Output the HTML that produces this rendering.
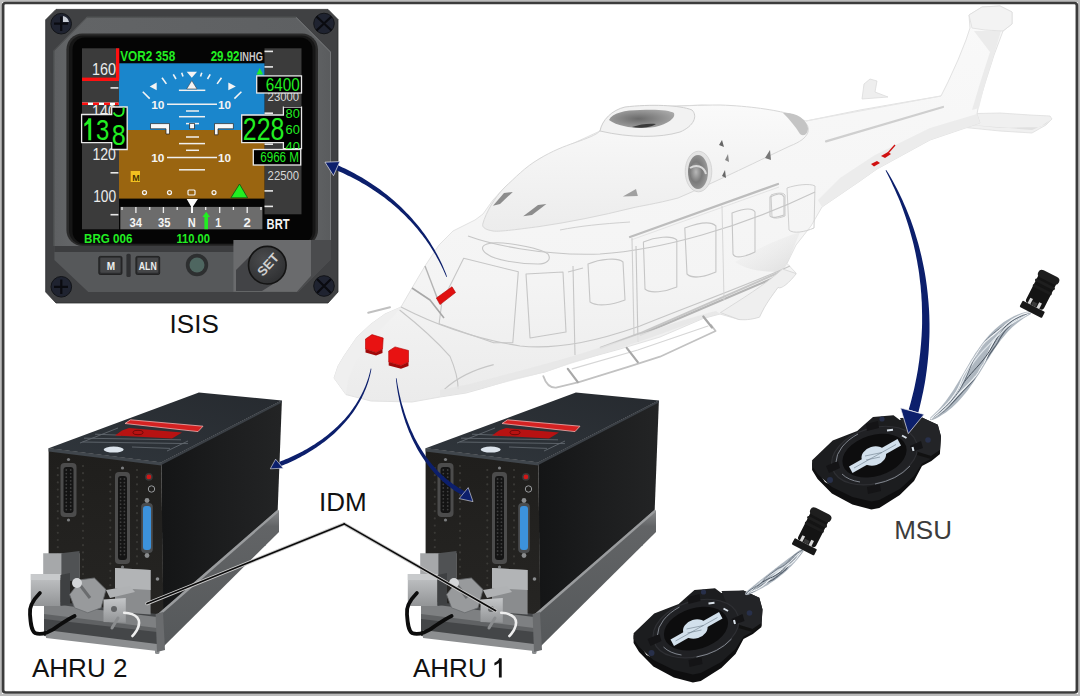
<!DOCTYPE html>
<html><head><meta charset="utf-8">
<style>
html,body{margin:0;padding:0;width:1080px;height:696px;overflow:hidden;background:#fff;}
svg{display:block}
text{font-family:"Liberation Sans",sans-serif}
</style></head>
<body>
<svg width="1080" height="696" viewBox="0 0 1080 696">
<rect x="0" y="0" width="1080" height="696" fill="#bcbcbc"/>
<rect x="2" y="2" width="1076" height="692" fill="#fff"/>
<defs>
  <linearGradient id="heliG" x1="0" y1="0" x2="0" y2="1">
    <stop offset="0" stop-color="#f9f9f9"/>
    <stop offset="0.7" stop-color="#f4f4f4"/>
    <stop offset="1" stop-color="#ebebeb"/>
  </linearGradient>
  <linearGradient id="cowlG" x1="0" y1="0" x2="0" y2="1">
    <stop offset="0" stop-color="#fafafa"/>
    <stop offset="1" stop-color="#ececec"/>
  </linearGradient>
  <radialGradient id="hubG" cx="0.45" cy="0.5" r="0.6">
    <stop offset="0" stop-color="#6a6a6a"/>
    <stop offset="1" stop-color="#a8a8a8"/>
  </radialGradient>
  <radialGradient id="intakeG" cx="0.4" cy="0.5" r="0.6">
    <stop offset="0" stop-color="#b8b8b8"/>
    <stop offset="0.5" stop-color="#7a7a7a"/>
    <stop offset="1" stop-color="#9a9a9a"/>
  </radialGradient>
  <linearGradient id="shadeR" x1="0" y1="0" x2="1" y2="1">
    <stop offset="0" stop-color="#f0f0f0" stop-opacity="0"/>
    <stop offset="1" stop-color="#d6d6d6" stop-opacity="1"/>
  </linearGradient>
</defs>
<g id="heli" stroke-linejoin="round">
  <!-- horizontal stabilizer -->
  <path d="M955 114 L1000 113 L1030 115 L1050 116 L1052 119 L1046 125 L1032 133 L1000 131 L960 127 Z" fill="#f0f0f0" stroke="#dedede" stroke-width="0.8"/>
  <path d="M960 124 L1032 130 L1046 124 L1050 120 L1040 127 L1000 128 Z" fill="#e0e0e0"/>
  <!-- small top fin -->
  <path d="M862 99 L864 84 L870 79 L877 81 L875 92 L888 97 Z" fill="#eeeeee" stroke="#dcdcdc" stroke-width="0.8"/>
  <!-- main silhouette -->
  <path d="M334 378 L338 366 L344 356 L357 337 L371 324 L385 314 L401 307 L412 288 L425 266 L439 245 L453 231 L475 220 L483 214 L493 200 L505 187 L539 159 L574 143 L600 131 L604 122 L613 113 L655 107 L702 105 L750 108 L783 113 L806 121 L860 110 L900 103 L941 96 L948 82 L958 60 L966 40 L970 28 L969 15 L982 7 L1000 6 L1012 12 L1012 24 L1003 31 L994 55 L986 80 L979 103 L977 114 L980 123 L930 140 L877 169 L860 181 L822 207 L811 226 L796 245 L787 263.5 L796 273 L778 287 L766 303 L759 317 L739 319.5 L720 314 L703 318.5 L660 337 L620 349 L573 362 L545 372 L514 379 L484 388 L466 393 L440 397 L412 402 L371 401 L346 394.6 Z" fill="url(#heliG)" stroke="#e2e2e2" stroke-width="1"/>
  <!-- boom underside shade -->
  <path d="M822 207 L860 181 L877 169 L930 140 L980 123 L977 114 L930 128 L875 155 L840 178 L818 200 Z" fill="#ececec"/>
  <!-- boom stripe -->
  <path d="M826 141.4 L943 107" stroke="#cfcfcf" stroke-width="2.2" fill="none" stroke-linecap="round"/>
  <path d="M806 121 L941 96" stroke="#e6e6e6" stroke-width="1" fill="none"/>
  <!-- fin shading -->
  <path d="M974 31 L1001 31 L993 58 L985 84 L979 108 L972 110 L981 80 L990 52 Z" fill="#ebebeb"/>
  <path d="M969 15 L982 7 L1000 6 L1012 12 L1012 24 L1003 31 L985 30 L972 28 Z" fill="#f3f3f3" stroke="#dddddd" stroke-width="0.8"/>
  <!-- rear shade above sponson -->
  <path d="M735 262 C755 250 775 240 800 232 L787 264 L782 272 C770 272 750 272 735 262 Z" fill="url(#shadeR)" opacity="0.8"/>
  <path d="M787 188 C795 185 810 183 815 186 L814 228 C805 232 793 234 789 230 Z" fill="none" stroke="#d0d0d0" stroke-width="1"/>
  <path d="M771 195 C776 193 783 192 785 195 L785 216 C780 218 774 219 772 217 Z" fill="none" stroke="#cccccc" stroke-width="1"/>
  <!-- engine cowling -->
  <path d="M482.7 224.3 C486 212 495 197 505 187 C515 178 525 167 539 159 C552 151 565 146 574 143 C588 138 596 135 600 131 C602 126 606 118 613 113 C630 108 645 107 655 107 C680 106 700 105 720 105 C750 106 775 110 790 114 C802 118 810 124 808 132 C806 138 800 142 790 146 C760 160 720 180 678 198 C655 204 640 206 632 208 C600 216 570 222 539 226.6 C520 229 500 232 493 231 C487 230 482 228 482.7 224.3 Z" fill="url(#cowlG)" stroke="#d8d8d8" stroke-width="1"/>
  <!-- hub ring -->
  <path d="M600 131 C602 120 612 110 625 107 C650 104 680 105 692 110 C698 116 694 126 680 132 C660 138 630 138 600 131 Z" fill="#f2f2f2" stroke="#cfcfcf" stroke-width="1"/>
  <path d="M609 120 C612 113 625 110 640 110 C655 109 670 110 674 113 C676 118 668 124 655 127 C640 129 620 128 609 120 Z" fill="url(#hubG)"/>
  <path d="M632 127 C640 124 650 123 656 124 C652 127 640 129 632 127 Z" fill="#3a3a3a"/>
  <!-- intake -->
  <ellipse cx="698.5" cy="171.5" rx="13.3" ry="20.3" fill="#e4e4e4" stroke="#cfcfcf" stroke-width="0.8"/>
  <ellipse cx="698" cy="172" rx="10" ry="17" fill="url(#intakeG)"/>
  <path d="M690 168 C696 164 704 166 706 174" stroke="#dadada" stroke-width="2" fill="none"/>
  <!-- exhaust -->
  <path d="M783 113 C795 112 806 118 808 128 C808 134 804 137 800 134 C795 126 790 120 783 113 Z" fill="#c4c4c4"/>
  <!-- vents -->
  <path d="M493 205.7 L504 193 L512.8 192 L500 204 Z" fill="#8c8c8c"/>
  <path d="M523.2 216.2 L538 205 L546.4 204 L532 215 Z" fill="#8c8c8c"/>
  <path d="M622.8 196.5 L636 189 L637.8 196 Z" fill="#a0a0a0"/>
  <path d="M719 145 L722 140 L724 147 Z" fill="#666"/>
  <path d="M722 176 L725 170 L726 178 Z" fill="#666"/>
  <path d="M725 160 L728 154 L729 162 Z" fill="#888"/>
  <path d="M765 158 L770 150 L771 160 Z" fill="#777"/>
  <!-- cabin lines -->
  <g fill="none" stroke="#c6c6c6" stroke-width="1.1">
    <path d="M463.7 258.2 L518.3 271.8 L512.8 342.8 L493.7 342.8 L439.1 323.7 L441.9 301.9 Z"/>
    <path d="M487 244 C500 240 540 248 548 254 C552 260 546 264 538 264 C518 264 495 260 487 254 C481 250 481 246 487 244 Z"/>
    <path d="M526 274 L563 272 L566 332 L530 338 Z"/>
    <path d="M588 264 C600 259 618 257 623 262 L625 300 C612 305 597 307 590 302 Z"/>
    <path d="M643.4 242 C655 237 672 235 676.8 240 L676.8 287 C665 292 650 294 645 289 Z"/>
    <path d="M684.8 228 C698 223 711 221 715.9 226 L715.9 272 C704 277 692 279 687 274 Z"/>
    <path d="M732 213 C742 209 752 207 755 212 L755 252 C745 257 735 259 733 254 Z"/>
    <path d="M770 197 C776 194 782 192 784 197 L784 215 C778 217 772 219 770 216 Z"/>
    <path d="M573 266 L575 355"/>
    <path d="M636 246 L638 342"/>
    <path d="M568 272 L583 268"/>
    <path d="M399.6 310 C425 330 440 345 450 356.4 C455 368 458 380 458.2 389.2"/>
    <path d="M444.6 389.2 C460 375 480 368 493.7 364.6"/>
    <path d="M401 307 C430 322 470 338 520 346 C560 350 600 340 640 326 C700 302 760 280 790 266"/>
    <path d="M468 236 C490 244 540 256 600 254 C660 250 740 228 815 192"/>
  </g>
  <!-- door rails -->
  <path d="M630 237 L778 184" stroke="#bdbdbd" stroke-width="2.2" fill="none" stroke-linecap="round"/>
  <path d="M631 240 L779 187" stroke="#e4e4e4" stroke-width="1" fill="none"/>
  <path d="M640.6 334.8 L784.8 273.2" stroke="#b4b4b4" stroke-width="2.2" fill="none" stroke-linecap="round"/>
  <path d="M632 238 L634 336" stroke="#cfcfcf" stroke-width="1.1" fill="none"/>
  <path d="M722 206 L724 300" stroke="#d6d6d6" stroke-width="1" fill="none"/>
  <path d="M560 230 C580 226 600 224 630 222" stroke="#d0d0d0" stroke-width="1" fill="none"/>
  <!-- rub rail -->
  <path d="M782.5 271 L640 333.3 L600 348" stroke="#c6c6c6" stroke-width="2" fill="none"/>
  <!-- sponson -->
  <path d="M720.5 312.6 C740 300 765 285 782.5 269 L796.3 273.6 C790 282 781 290 778 287.4 C772 296 766 303 759.5 317.2 C750 320 744 320 738.9 319.5 Z" fill="#efefef" stroke="#d4d4d4" stroke-width="0.8"/>
  <!-- lower shade -->
  <path d="M440 397 C470 392 500 384 545 372 C580 361 630 346 703 318.5 L720 314 L716 311 C680 320 630 338 580 354 C540 366 500 376 470 384 L440 390 Z" fill="#e6e6e6" opacity="0.8"/>
  <!-- landing skid -->
  <g fill="none" stroke="#c2c2c2" stroke-width="1.8" stroke-linecap="round" stroke-linejoin="round">
    <path d="M543.3 376.1 C546 384 550 388 556 387.6 L578.9 382.2 L628.9 366.7 L660 356.7 L715.6 331 L711 325"/>
    <path d="M572.2 368.9 L637.8 350 L708 326" stroke="#d6d6d6" stroke-width="1.2"/>
    <path d="M567.8 368.9 L577.8 382.2" stroke="#a8a8a8" stroke-width="2.2"/>
    <path d="M626.7 347.8 L637.8 362.2" stroke="#a8a8a8" stroke-width="2.2"/>
    <path d="M703.3 316.5 L712 327.5" stroke="#a8a8a8" stroke-width="2.2"/>
  </g>
  <!-- nose shading / details -->
  <path d="M334 378 L338 366 L344 356 L357 337 L371 324 L385 314 L401 307 L392 318 L372 338 L356 362 L348 380 L346 394.6 Z" fill="#efefef"/>
  <path d="M368.2 312.8 L390 307.3" stroke="#c0c0c0" stroke-width="2" fill="none" stroke-linecap="round"/>
  <path d="M412 288 L430 300 L444 318" stroke="#a8a8a8" stroke-width="1.6" fill="none"/>
  <path d="M425 266 L438 300" stroke="#b4b4b4" stroke-width="1.4" fill="none"/>
  <!-- red sensors -->
  <path d="M436.4 298 L452 286.8 L455.5 292.5 L440 304.6 Z" fill="#e01010" stroke="#b00000" stroke-width="0.6"/>
  <path d="M365.5 339 L372 334.6 L383.2 338 L382.5 349 L376 352.5 L365.5 349 Z" fill="#e81212" stroke="#b00000" stroke-width="0.6"/>
  <path d="M365.5 349 L376 352.5 L382.5 349 L382.5 353 L376 355.5 L365.5 352.5 Z" fill="#a00808"/>
  <path d="M388.7 351 L395 346.9 L408.5 350.5 L408.5 362 L401 365.5 L388.7 362 Z" fill="#e81212" stroke="#b00000" stroke-width="0.6"/>
  <path d="M388.7 362 L401 365.5 L408.5 362 L408.5 366 L401 368.7 L388.7 365.5 Z" fill="#a00808"/>
  <!-- tail sensor -->
  <path d="M871 164 L877 161 L880 163 L874 166.5 Z" fill="#d01010"/>
  <path d="M881 156 L888 152 L891 154 L885 158 Z" fill="#d01010"/>
  <path d="M888 153 L895 145" stroke="#d01010" stroke-width="1.3"/>
</g>

<g id="isis">
  <!-- outer bezel -->
  <polygon points="45.7,19.8 56,9.4 328,9.4 338,19.5 338,292 328,303 56,303 45.7,292" fill="#404143" stroke="#2c2d2f" stroke-width="0.8"/>
  <!-- inner lighter frame -->
  <defs><linearGradient id="frameG" x1="0" y1="0" x2="1" y2="0"><stop offset="0" stop-color="#5e6062"/><stop offset="0.05" stop-color="#626466"/><stop offset="0.95" stop-color="#5e6062"/><stop offset="1" stop-color="#5a5c5e"/></linearGradient></defs>
  <polygon points="53.5,50.8 87,16.8 296,16.8 331,52 331,246 53.5,246" fill="url(#frameG)"/>
  <polyline points="296,17.3 330.5,52 330.5,246" fill="none" stroke="#76787a" stroke-width="1"/>
  <polyline points="54,246 54,51 87,17.3 296,17.3" fill="none" stroke="#4a4b4d" stroke-width="0.8"/>
  <!-- lower panel -->
  <polygon points="54.4,246 331,246 331,259 298,292 88.3,292 54.4,260" fill="#56585a"/>
  <polygon points="54.4,246 331,246 331,252 54.4,252" fill="#3c3d3f"/>
  <!-- black display -->
  <rect x="66.4" y="33.6" width="251.6" height="212.4" rx="16" fill="#2a2a2a"/>
  <rect x="69" y="35.5" width="246.5" height="209" rx="14" fill="#161616"/>
  <rect x="72.5" y="37.5" width="240" height="206" rx="12" fill="#050505"/>
  <!-- SET raised panel -->
  <polygon points="233.4,240 311,240 311,276 297,291.7 233.4,291.7" fill="#6a6b6d"/>
  <polygon points="311,240 331,240 331,259 298,292 297,291.7 311,276" fill="#4a4b4d"/>
  <!-- screws -->
  <g fill="#1f2330" stroke="#121418" stroke-width="1">
    <circle cx="61.2" cy="23.7" r="10.3"/>
    <circle cx="324" cy="23.5" r="10.3"/>
    <circle cx="61.3" cy="286.8" r="10.3"/>
    <circle cx="324" cy="286" r="10.3"/>
  </g>
  <g stroke="#0a0b10" stroke-width="2.2">
    <path d="M54 23.7h14M61.2 16.5v14.4"/>
    <path d="M316.5 16.5l15 14M331.5 16.5l-15 14"/>
    <path d="M54 286.8h14M61.3 279.6v14.4"/>
    <path d="M317 279l14 14M331 279l-14 14"/>
  </g>
  <path d="M63 16 a8 8 0 0 1 6 6 h-6z" fill="#c8ccd4"/>

  <!-- left speed tape -->
  <rect x="82" y="48.3" width="37" height="181" fill="#3b3b3b"/>
  <!-- right alt tape -->
  <rect x="264.5" y="48.3" width="37" height="166" fill="#3b3b3b"/>
  <!-- top black strip already black -->
  <!-- sky -->
  <rect x="119" y="63.3" width="145.5" height="66.7" fill="#1a86cc"/>
  <!-- ground -->
  <rect x="119" y="130" width="145.5" height="68.6" fill="#9a6510"/>
  <!-- heading tape -->
  <rect x="120.3" y="206.9" width="142.1" height="22.4" fill="#6c6c6c"/>

  <!-- speed tape red -->
  <rect x="116" y="48.3" width="3.3" height="31" fill="#ff1010"/>
  <rect x="82" y="77.6" width="37" height="3.4" fill="#ff1010"/>
  <line x1="82" y1="103.8" x2="118.6" y2="103.8" stroke="#fff" stroke-width="2.6"/>
  <line x1="82" y1="103.8" x2="118.6" y2="103.8" stroke="#ff1010" stroke-width="2.6" stroke-dasharray="6 5"/>
  <!-- speed ticks -->
  <g stroke="#e8e8e8" stroke-width="1.6">
    <line x1="110.5" y1="87.9" x2="118.4" y2="87.9"/>
    <line x1="110.5" y1="172.8" x2="118.4" y2="172.8"/>
    <line x1="110.5" y1="214.7" x2="118.4" y2="214.7"/>
  </g>
  <g fill="#ececec" font-size="16.5">
    <text x="92" y="75" textLength="24" lengthAdjust="spacingAndGlyphs">160</text>
    <text x="92" y="117" textLength="24" lengthAdjust="spacingAndGlyphs">140</text>
    <text x="92.4" y="159.8" textLength="23.6" lengthAdjust="spacingAndGlyphs">120</text>
    <text x="93.2" y="202" textLength="23" lengthAdjust="spacingAndGlyphs">100</text>
  </g>
  <!-- alt ticks -->
  <g stroke="#e8e8e8" stroke-width="1.6">
    <line x1="264.5" y1="51.4" x2="273" y2="51.4"/>
    <line x1="264.5" y1="66.9" x2="273" y2="66.9"/>
    <line x1="264.5" y1="113.2" x2="273" y2="113.2"/>
    <line x1="264.5" y1="144.2" x2="273" y2="144.2"/>
    <line x1="264.5" y1="190.9" x2="273" y2="190.9"/>
    <line x1="264.5" y1="206.4" x2="273" y2="206.4"/>
  </g>
  <g fill="#d8d8d8" font-size="13.5">
    <text x="267.6" y="101" textLength="31.5" lengthAdjust="spacingAndGlyphs">23000</text>
    <text x="267.6" y="179.7" textLength="31.5" lengthAdjust="spacingAndGlyphs">22500</text>
  </g>
  <!-- top strip text -->
  <g font-weight="bold" font-size="14" fill="#22ee22">
    <text x="120.2" y="61.2" textLength="55" lengthAdjust="spacingAndGlyphs">VOR2 358</text>
    <text x="210.7" y="61.2" textLength="28.8" lengthAdjust="spacingAndGlyphs">29.92</text>
    <text x="84.1" y="242.6" font-size="13" textLength="48.3" lengthAdjust="spacingAndGlyphs">BRG 006</text>
    <text x="176.4" y="242.6" font-size="13" textLength="33.6" lengthAdjust="spacingAndGlyphs">110.00</text>
  </g>
  <text x="239.8" y="61.2" font-size="12" font-weight="bold" fill="#c8c8c8" textLength="23" lengthAdjust="spacingAndGlyphs">INHG</text>
  <!-- green triangle top of alt -->
  <polygon points="259.7,68 256.5,74.5 263,74.5" fill="#22ee22"/>

  <!-- pitch ladder -->
  <g stroke="#f0f0f0" stroke-width="1.5">
    <line x1="167" y1="104.2" x2="217" y2="104.2"/>
    <line x1="186" y1="111" x2="199" y2="111"/>
    <line x1="179" y1="116.7" x2="205" y2="116.7"/>
    <line x1="186" y1="123.6" x2="199" y2="123.6"/>
    <line x1="186" y1="137" x2="199" y2="137"/>
    <line x1="179" y1="143.6" x2="205" y2="143.6"/>
    <line x1="186" y1="150.3" x2="199" y2="150.3"/>
    <line x1="167" y1="157.6" x2="217" y2="157.6"/>
    <line x1="179" y1="169.8" x2="205" y2="169.8"/>
    <line x1="178.9" y1="90.3" x2="205.3" y2="90.3"/>
  </g>
  <g fill="#f4f4f4" font-weight="bold" font-size="11">
    <text x="151.2" y="108.8" textLength="13.3" lengthAdjust="spacingAndGlyphs">10</text>
    <text x="218.1" y="108.8" textLength="13" lengthAdjust="spacingAndGlyphs">10</text>
    <text x="151.2" y="162.3" textLength="13.3" lengthAdjust="spacingAndGlyphs">10</text>
    <text x="218.1" y="162.3" textLength="13" lengthAdjust="spacingAndGlyphs">10</text>
  </g>
  <!-- roll scale -->
  <g stroke="#f4f4f4" stroke-width="1.6">
    <line x1="162" y1="77.8" x2="166.4" y2="83.9"/>
    <line x1="173.3" y1="74.4" x2="176" y2="79"/>
    <line x1="181.7" y1="72.8" x2="183" y2="76.4"/>
    <line x1="221.5" y1="77.8" x2="217.1" y2="83.9"/>
    <line x1="210.2" y1="74.4" x2="207.5" y2="79"/>
    <line x1="201.8" y1="72.8" x2="200.5" y2="76.4"/>
    <line x1="142.8" y1="91.7" x2="149.7" y2="98.6"/>
    <line x1="241.4" y1="91.7" x2="234.4" y2="98.6"/>
  </g>
  <g fill="#f4f4f4">
    <polygon points="149.7,86.5 156.7,82.5 156.7,90.3"/>
    <polygon points="235.8,86.5 228.3,82.5 228.3,90.3"/>
    <polygon points="186.7,71.7 197,71.7 191.8,77.8"/>
    <polygon points="191.8,80.6 186.7,88.9 197,88.9" stroke="#333" stroke-width="0.5"/>
  </g>
  <!-- aircraft symbol -->
  <g fill="#f8f8f8" stroke="#222" stroke-width="0.7">
    <path d="M150.5 123.6H169.5V134H166V128.8H150.5Z"/>
    <path d="M233.4 123.6H214.5V134.8H218V128.8H233.4Z"/>
    <rect x="189.7" y="123.6" width="4.8" height="5.2"/>
  </g>
  <!-- markers bottom -->
  <g fill="none" stroke="#f4f4f4" stroke-width="1.2">
    <circle cx="144.5" cy="192.6" r="2"/>
    <circle cx="169.5" cy="192.6" r="2"/>
    <circle cx="214" cy="192.6" r="2"/>
    <rect x="188" y="190" width="7" height="5" rx="1"/>
  </g>
  <polygon points="239.5,184 230.9,197.8 247.6,197.8" fill="#22ee22" stroke="#0b5010" stroke-width="0.8"/>
  <rect x="130.7" y="171" width="9.3" height="11" fill="#f0c020"/>
  <text x="132.3" y="180.5" font-size="9" font-weight="bold" fill="#4a3000">M</text>

  <!-- speed box -->
  <path d="M81.6 114.5H111.7V107H127.2V149.5H111.7V142.6H81.6Z" fill="#000" stroke="#e8e8e8" stroke-width="1.3"/>
  <g fill="#22ee22" font-size="29.6">
    <text x="96" y="140" textLength="13.3" lengthAdjust="spacingAndGlyphs">3</text>
    <text x="111.8" y="145.2" textLength="14" lengthAdjust="spacingAndGlyphs">8</text>
  </g>
  <path d="M88.3 118.3 H91.2 V140.2 H88.3 Z M84.3 123.6 C86.2 122.4 87.6 120.6 88.4 118.3 L89.6 118.3 L89.2 122.8 C87.8 124.4 86.2 125.6 84.3 126.4 Z" fill="#22ee22"/>
  <path d="M113 108 h13 v6 h-13z" fill="#000"/>
  <path d="M123.6 107.5 V110.5 C123.6 114 121.5 116 118.8 116 C116 116 114.4 114.6 113.9 112.6" fill="none" stroke="#22ee22" stroke-width="2"/>
  <!-- alt box -->
  <path d="M241.7 115H283.4V107.2H301.5V148.6H283.4V142.6H241.7Z" fill="#000" stroke="#e8e8e8" stroke-width="1.3"/>
  <g fill="#22ee22">
    <text x="242.8" y="140" font-size="30.7" textLength="41.5" lengthAdjust="spacingAndGlyphs">228</text>
    <text x="285.5" y="134" font-size="13" textLength="14.3" lengthAdjust="spacingAndGlyphs">60</text>
    <text x="285.5" y="117.5" font-size="13" textLength="14.3" lengthAdjust="spacingAndGlyphs">80</text>
    <text x="285.5" y="151" font-size="13" textLength="14.3" lengthAdjust="spacingAndGlyphs">40</text>
  </g>
  <rect x="284" y="102" width="17" height="5.2" fill="#3b3b3b"/>
  <rect x="284" y="149.3" width="17" height="5" fill="#3b3b3b"/>
  <!-- 6400 box -->
  <rect x="256.7" y="75.9" width="44.8" height="17.1" fill="#000" stroke="#e8e8e8" stroke-width="1.3"/>
  <text x="265.8" y="91.4" font-size="19" fill="#22ee22" textLength="34" lengthAdjust="spacingAndGlyphs">6400</text>
  <!-- 6966 M box -->
  <rect x="253.3" y="149.5" width="47.4" height="15.5" fill="#000" stroke="#e8e8e8" stroke-width="1.3"/>
  <text x="260.2" y="162.4" font-size="14" fill="#22ee22" textLength="38.8" lengthAdjust="spacingAndGlyphs">6966 M</text>

  <!-- heading tape ticks -->
  <g stroke="#f0f0f0" stroke-width="1.3">
    <path d="M122 207v3M135.9 207v6M149.7 207v3M163.4 207v6M177.2 207v3M205.7 207v3M219.7 207v6M233.4 207v3M247.2 207v6M261 207v3"/>
  </g>
  <g fill="#f4f4f4" font-size="12.5" font-weight="bold">
    <text x="129.6" y="226.6" textLength="12.5" lengthAdjust="spacingAndGlyphs">34</text>
    <text x="158.1" y="226.6" textLength="12.4" lengthAdjust="spacingAndGlyphs">35</text>
    <text x="187.8" y="226.6" textLength="8" lengthAdjust="spacingAndGlyphs">N</text>
    <text x="215.2" y="226.6" textLength="6" lengthAdjust="spacingAndGlyphs">1</text>
    <text x="243.6" y="226.6" textLength="7.3" lengthAdjust="spacingAndGlyphs">2</text>
  </g>
  <text x="266.6" y="228.8" font-size="14.2" font-weight="bold" fill="#f4f4f4" textLength="23" lengthAdjust="spacingAndGlyphs">BRT</text>
  <!-- heading pointer -->
  <path d="M186.7 199H197.9L193 206.5V213H191V206.5Z" fill="#fafafa"/>
  <!-- bearing arrow -->
  <path d="M206.2 211.8L210 217H208V229.3H204.4V217H202.4Z" fill="#22ee22"/>

  <!-- buttons -->
  <rect x="98.8" y="256.4" width="23.2" height="18.1" rx="1.5" fill="#2b2c2e" stroke="#1a1a1a" stroke-width="0.8"/>
  <rect x="100.3" y="257.8" width="20.2" height="15" rx="1" fill="#454648"/>
  <rect x="135.9" y="256.4" width="23.8" height="18.1" rx="1.5" fill="#2b2c2e" stroke="#1a1a1a" stroke-width="0.8"/>
  <rect x="137.4" y="257.8" width="20.8" height="15" rx="1" fill="#454648"/>
  <rect x="126.4" y="253.8" width="4.3" height="23.2" rx="1.5" fill="#2e2f31"/>
  <g fill="#eee" font-weight="bold" font-size="10">
    <text x="106.8" y="269.5">M</text>
    <text x="138.8" y="269.5" textLength="18" lengthAdjust="spacingAndGlyphs">ALN</text>
  </g>
  <circle cx="197" cy="265" r="11.2" fill="#2d2f30"/>
  <circle cx="197" cy="265" r="7.5" fill="#4e6660"/>
  <!-- SET knob -->
  <defs><radialGradient id="knobG" cx="0.4" cy="0.35" r="0.7"><stop offset="0" stop-color="#4a4b4d"/><stop offset="1" stop-color="#2e2f31"/></radialGradient></defs>
  <path d="M254 252 L281 279 L262 291 L236 291 L236 270 Z" fill="#3e3f41" opacity="0.9"/>
  <circle cx="267.3" cy="265.2" r="18.8" fill="url(#knobG)" stroke="#141414" stroke-width="1.6"/>
  <text x="0" y="0" font-size="13" font-weight="bold" fill="#d0d0d0" transform="translate(263,277) rotate(-48)">SET</text>
</g>

<defs>
  <linearGradient id="sideG" x1="0" y1="0" x2="1" y2="0">
    <stop offset="0" stop-color="#141516"/>
    <stop offset="0.5" stop-color="#1c1d1e"/>
    <stop offset="1" stop-color="#232425"/>
  </linearGradient>
  <linearGradient id="topG" x1="0" y1="1" x2="1" y2="0">
    <stop offset="0" stop-color="#30363c"/>
    <stop offset="1" stop-color="#262a2f"/>
  </linearGradient>
  <linearGradient id="wallG" x1="0" y1="0" x2="0" y2="1">
    <stop offset="0" stop-color="#8a8c8e"/>
    <stop offset="0.12" stop-color="#626466"/>
    <stop offset="1" stop-color="#55585a"/>
  </linearGradient>
  <linearGradient id="silverG" x1="0" y1="0" x2="0" y2="1">
    <stop offset="0" stop-color="#c4c6c8"/>
    <stop offset="1" stop-color="#929496"/>
  </linearGradient>
  <linearGradient id="frontG" x1="0" y1="0" x2="0" y2="1">
    <stop offset="0" stop-color="#1f1e1c"/>
    <stop offset="1" stop-color="#262523"/>
  </linearGradient>
</defs>
<g id="ahru2">
  <!-- legs -->
  <g fill="#8a8c8e">
    <rect x="262" y="535" width="4" height="11" rx="1.5"/>
    <rect x="239" y="556" width="4" height="11" rx="1.5"/>
    <rect x="173" y="620" width="4" height="12" rx="1.5"/>
    <rect x="155" y="640" width="4.5" height="14" rx="1.5"/>
    <rect x="70" y="624" width="4.5" height="10" rx="1.5"/>
    <rect x="109" y="622" width="4.5" height="9" rx="1.5"/>
  </g>
  <!-- box side -->
  <polygon points="161.3,462.6 281.9,400.4 277.5,515 163,624" fill="url(#sideG)"/>
  <!-- box front -->
  <polygon points="48.6,448.2 161.3,462.6 163.5,620 48.6,606" fill="url(#frontG)"/>
  <!-- top -->
  <polygon points="48.6,448.2 198.9,392.6 281.9,400.4 161.3,462.6" fill="url(#topG)"/>
  <polygon points="48.6,448.2 161.3,462.6 161.3,465.5 48.6,451.5" fill="#40464c"/>
  <polygon points="161.3,462.6 281.9,400.4 281.9,402.5 161.3,465" fill="#3a3f45"/>
  <!-- top labels -->
  <g stroke="#8c949c" stroke-width="0.9" opacity="0.55" fill="none">
    <path d="M95 434.2 L121 435.2"/>
    <path d="M84 438.2 L181 439.8"/>
    <path d="M82.5 442 L188 443.6"/>
    <path d="M132 447 L170 448.4"/>
    <path d="M188 441 L167 451"/>
    <path d="M80 443 L118 428"/>
  </g>
  <polygon points="125,423.5 130.5,419.8 203,426.2 198,431.6" fill="#d42222" stroke="#f2b0b0" stroke-width="0.8"/>
  <polygon points="122,430.6 129,428 182,432.6 172,438.6 115,435.5" fill="#b81212"/>
  <ellipse cx="138" cy="432.5" rx="5" ry="2.2" fill="none" stroke="#5a0808" stroke-width="0.8"/>
  <ellipse cx="113.7" cy="449.6" rx="10" ry="3" fill="#dce4ec"/>
  <!-- front connectors -->
  <g>
    <rect x="60.5" y="463" width="16" height="54" rx="4" fill="#4c4c4c"/>
    <rect x="63.5" y="467" width="10" height="46" rx="3" fill="#141414"/>
    <rect x="115" y="472" width="15" height="92" rx="4" fill="#4c4c4c"/>
    <rect x="118" y="476" width="9" height="84" rx="3" fill="#141414"/>
    <g fill="#3e3e3e">
    <circle cx="66.3" cy="470.0" r="0.9"/>
    <circle cx="66.3" cy="473.6" r="0.9"/>
    <circle cx="66.3" cy="477.2" r="0.9"/>
    <circle cx="66.3" cy="480.8" r="0.9"/>
    <circle cx="66.3" cy="484.4" r="0.9"/>
    <circle cx="66.3" cy="488.0" r="0.9"/>
    <circle cx="66.3" cy="491.6" r="0.9"/>
    <circle cx="66.3" cy="495.2" r="0.9"/>
    <circle cx="66.3" cy="498.8" r="0.9"/>
    <circle cx="66.3" cy="502.4" r="0.9"/>
    <circle cx="66.3" cy="506.0" r="0.9"/>
    <circle cx="66.3" cy="509.6" r="0.9"/>
    <circle cx="70.7" cy="470.0" r="0.9"/>
    <circle cx="70.7" cy="473.6" r="0.9"/>
    <circle cx="70.7" cy="477.2" r="0.9"/>
    <circle cx="70.7" cy="480.8" r="0.9"/>
    <circle cx="70.7" cy="484.4" r="0.9"/>
    <circle cx="70.7" cy="488.0" r="0.9"/>
    <circle cx="70.7" cy="491.6" r="0.9"/>
    <circle cx="70.7" cy="495.2" r="0.9"/>
    <circle cx="70.7" cy="498.8" r="0.9"/>
    <circle cx="70.7" cy="502.4" r="0.9"/>
    <circle cx="70.7" cy="506.0" r="0.9"/>
    <circle cx="70.7" cy="509.6" r="0.9"/>
    <circle cx="120.6" cy="479.0" r="0.9"/>
    <circle cx="120.6" cy="482.6" r="0.9"/>
    <circle cx="120.6" cy="486.2" r="0.9"/>
    <circle cx="120.6" cy="489.8" r="0.9"/>
    <circle cx="120.6" cy="493.4" r="0.9"/>
    <circle cx="120.6" cy="497.0" r="0.9"/>
    <circle cx="120.6" cy="500.6" r="0.9"/>
    <circle cx="120.6" cy="504.2" r="0.9"/>
    <circle cx="120.6" cy="507.8" r="0.9"/>
    <circle cx="120.6" cy="511.4" r="0.9"/>
    <circle cx="120.6" cy="515.0" r="0.9"/>
    <circle cx="120.6" cy="518.6" r="0.9"/>
    <circle cx="120.6" cy="522.2" r="0.9"/>
    <circle cx="120.6" cy="525.8" r="0.9"/>
    <circle cx="120.6" cy="529.4" r="0.9"/>
    <circle cx="120.6" cy="533.0" r="0.9"/>
    <circle cx="120.6" cy="536.6" r="0.9"/>
    <circle cx="120.6" cy="540.2" r="0.9"/>
    <circle cx="120.6" cy="543.8" r="0.9"/>
    <circle cx="120.6" cy="547.4" r="0.9"/>
    <circle cx="120.6" cy="551.0" r="0.9"/>
    <circle cx="120.6" cy="554.6" r="0.9"/>
    <circle cx="124.4" cy="479.0" r="0.9"/>
    <circle cx="124.4" cy="482.6" r="0.9"/>
    <circle cx="124.4" cy="486.2" r="0.9"/>
    <circle cx="124.4" cy="489.8" r="0.9"/>
    <circle cx="124.4" cy="493.4" r="0.9"/>
    <circle cx="124.4" cy="497.0" r="0.9"/>
    <circle cx="124.4" cy="500.6" r="0.9"/>
    <circle cx="124.4" cy="504.2" r="0.9"/>
    <circle cx="124.4" cy="507.8" r="0.9"/>
    <circle cx="124.4" cy="511.4" r="0.9"/>
    <circle cx="124.4" cy="515.0" r="0.9"/>
    <circle cx="124.4" cy="518.6" r="0.9"/>
    <circle cx="124.4" cy="522.2" r="0.9"/>
    <circle cx="124.4" cy="525.8" r="0.9"/>
    <circle cx="124.4" cy="529.4" r="0.9"/>
    <circle cx="124.4" cy="533.0" r="0.9"/>
    <circle cx="124.4" cy="536.6" r="0.9"/>
    <circle cx="124.4" cy="540.2" r="0.9"/>
    <circle cx="124.4" cy="543.8" r="0.9"/>
    <circle cx="124.4" cy="547.4" r="0.9"/>
    <circle cx="124.4" cy="551.0" r="0.9"/>
    <circle cx="124.4" cy="554.6" r="0.9"/>
    </g>
    <rect x="141.2" y="503" width="11.6" height="50" rx="4" fill="#4a4c4e"/>
    <rect x="143" y="506" width="8" height="44" rx="3" fill="#3c92dc"/>
    <circle cx="147" cy="500.5" r="2.4" fill="#8a8c8e"/>
    <circle cx="147" cy="555.5" r="2.4" fill="#8a8c8e"/>
    <circle cx="68.5" cy="459.5" r="1.6" fill="#7a7c7e"/>
    <circle cx="68.5" cy="520" r="1.6" fill="#7a7c7e"/>
    <circle cx="122.5" cy="468" r="1.6" fill="#7a7c7e"/>
    <circle cx="122.5" cy="567" r="1.6" fill="#7a7c7e"/>
    <circle cx="148.9" cy="476.9" r="3.8" fill="#3a3a3a"/>
    <circle cx="148.9" cy="476.9" r="2.4" fill="#d01818"/>
    <circle cx="151.5" cy="489" r="3.2" fill="none" stroke="#9a9c9e" stroke-width="1"/>
    <circle cx="157.5" cy="579" r="1.8" fill="#8a8c8e"/>
  </g>
  <!-- dots on front -->
  <g fill="#3a3936">
  <circle cx="57.8" cy="468.0" r="1.1"/>
  <circle cx="57.8" cy="475.2" r="1.1"/>
  <circle cx="57.8" cy="482.4" r="1.1"/>
  <circle cx="57.8" cy="489.6" r="1.1"/>
  <circle cx="57.8" cy="496.8" r="1.1"/>
  <circle cx="57.8" cy="504.0" r="1.1"/>
  <circle cx="57.8" cy="511.2" r="1.1"/>
  <circle cx="57.8" cy="518.4" r="1.1"/>
  <circle cx="57.8" cy="525.6" r="1.1"/>
  <circle cx="57.8" cy="532.8" r="1.1"/>
  <circle cx="57.8" cy="540.0" r="1.1"/>
  <circle cx="57.8" cy="547.2" r="1.1"/>
  <circle cx="57.8" cy="554.4" r="1.1"/>
  <circle cx="57.8" cy="561.6" r="1.1"/>
  <circle cx="57.8" cy="568.8" r="1.1"/>
  <circle cx="57.8" cy="576.0" r="1.1"/>
  <circle cx="57.8" cy="583.2" r="1.1"/>
  <circle cx="83" cy="466.0" r="1.1"/>
  <circle cx="83" cy="473.2" r="1.1"/>
  <circle cx="83" cy="480.4" r="1.1"/>
  <circle cx="83" cy="487.6" r="1.1"/>
  <circle cx="83" cy="494.8" r="1.1"/>
  <circle cx="83" cy="502.0" r="1.1"/>
  <circle cx="83" cy="509.2" r="1.1"/>
  <circle cx="83" cy="516.4" r="1.1"/>
  <circle cx="83" cy="523.6" r="1.1"/>
  <circle cx="83" cy="530.8" r="1.1"/>
  <circle cx="83" cy="538.0" r="1.1"/>
  <circle cx="83" cy="545.2" r="1.1"/>
  <circle cx="83" cy="552.4" r="1.1"/>
  <circle cx="83" cy="559.6" r="1.1"/>
  <circle cx="83" cy="566.8" r="1.1"/>
  <circle cx="83" cy="574.0" r="1.1"/>
  <circle cx="83" cy="581.2" r="1.1"/>
  <circle cx="83" cy="588.4" r="1.1"/>
  <circle cx="110.3" cy="470.0" r="1.1"/>
  <circle cx="110.3" cy="477.2" r="1.1"/>
  <circle cx="110.3" cy="484.4" r="1.1"/>
  <circle cx="110.3" cy="491.6" r="1.1"/>
  <circle cx="110.3" cy="498.8" r="1.1"/>
  <circle cx="110.3" cy="506.0" r="1.1"/>
  <circle cx="110.3" cy="513.2" r="1.1"/>
  <circle cx="110.3" cy="520.4" r="1.1"/>
  <circle cx="110.3" cy="527.6" r="1.1"/>
  <circle cx="110.3" cy="534.8" r="1.1"/>
  <circle cx="110.3" cy="542.0" r="1.1"/>
  <circle cx="110.3" cy="549.2" r="1.1"/>
  <circle cx="110.3" cy="556.4" r="1.1"/>
  <circle cx="110.3" cy="563.6" r="1.1"/>
  <circle cx="110.3" cy="570.8" r="1.1"/>
  <circle cx="110.3" cy="578.0" r="1.1"/>
  <circle cx="110.3" cy="585.2" r="1.1"/>
  <circle cx="110.3" cy="592.4" r="1.1"/>
  <circle cx="137" cy="470.0" r="1.1"/>
  <circle cx="137" cy="477.2" r="1.1"/>
  <circle cx="137" cy="484.4" r="1.1"/>
  <circle cx="137" cy="491.6" r="1.1"/>
  <circle cx="137" cy="498.8" r="1.1"/>
  <circle cx="137" cy="506.0" r="1.1"/>
  <circle cx="137" cy="513.2" r="1.1"/>
  <circle cx="137" cy="520.4" r="1.1"/>
  <circle cx="137" cy="527.6" r="1.1"/>
  <circle cx="137" cy="534.8" r="1.1"/>
  <circle cx="137" cy="542.0" r="1.1"/>
  <circle cx="137" cy="549.2" r="1.1"/>
  <circle cx="137" cy="556.4" r="1.1"/>
  <circle cx="137" cy="563.6" r="1.1"/>
  <circle cx="137" cy="570.8" r="1.1"/>
  <circle cx="137" cy="578.0" r="1.1"/>
  <circle cx="137" cy="585.2" r="1.1"/>
  <circle cx="137" cy="592.4" r="1.1"/>
  </g>
  <!-- tray wall -->
  <polygon points="277.9,509.5 279,511 279,532 160,650 156.3,646 156.3,615.2" fill="url(#wallG)"/>
  <polygon points="156.3,615.2 277.9,509.5 278.5,512 157,618" fill="#9a9c9e"/>
  <!-- tray front/base -->
  <polygon points="44,600 157,614 157,650 44,636" fill="#444648"/>
  <polygon points="44,603 157,617 157,631 44,618" fill="#7e8082"/>
  <polygon points="44,614 157,628 157,632 44,619" fill="#606264"/>
  <polygon points="46,630 157,644 157,651 46,638" fill="#8c8e90"/>
  <polygon points="155.6,614 163,612 165,650 157,652" fill="#6a6c6e"/>
  <!-- silver blocks -->
  <polygon points="43.2,553.3 79.5,553.3 79.5,578 43.2,578" fill="#a6a8aa"/>
  <polygon points="61.4,553.3 79.5,551 79.5,580 61.4,582" fill="#505254"/>
  <polygon points="30.8,574 60.5,574 60.5,606 30.8,606" fill="url(#silverG)"/>
  <polygon points="30.8,574 60.5,574 60.5,580 30.8,580" fill="#c8cacc"/>
  <polygon points="60.5,575 70,573 70,604 60.5,606" fill="#3e4042"/>
  <!-- hex knob -->
  <polygon points="69.6,594.6 81.2,579.7 94.4,578 106,589.6 101,607.8 87.8,612.8 74.6,607.8" fill="#989a9c" stroke="#6a6c6e" stroke-width="0.8"/>
  <line x1="80" y1="585" x2="90" y2="598" stroke="#6a6c6e" stroke-width="3"/>
  <circle cx="77" cy="583" r="5" fill="#d4d6d8"/>
  <!-- right block -->
  <polygon points="115,568 150.6,570 150.6,614.4 115,612" fill="#8a8c8e"/>
  <polygon points="115,568 150.6,570 150.6,590 115,588" fill="#b2b4b6"/>
  <polygon points="103.5,599.5 125.8,598 125.8,622.7 103.5,622" fill="url(#silverG)"/>
  <polygon points="106,590 130,586 135,592 110,598" fill="#b0b2b4"/>
  <circle cx="114" cy="609" r="3" fill="#606264"/>
  <line x1="112" y1="628" x2="118" y2="618" stroke="#8a8c8e" stroke-width="3" stroke-linecap="round"/>
  <!-- cables -->
  <path d="M39.9 593 C33 600 29 608 30 614.4 C30.5 622 31 630 35 633 C42 636 52 631 58 626 C64 622 70 618 74.6 616" fill="none" stroke="#0c0c0c" stroke-width="3.8" stroke-linecap="round"/>
  <path d="M124.2 612.8 C130 613 135 615 137.4 617.7 C140 621 139 626 137 630 C135 633 133.5 635 132.4 636" fill="none" stroke="#eeeeee" stroke-width="2.6" stroke-linecap="round"/>
</g>
<use href="#ahru2" x="377" y="0"/>

<defs>
  <g id="conn">
    <rect x="-10" y="-19" width="20" height="33" rx="3" fill="#141414"/>
    <rect x="-11.5" y="-22.5" width="23" height="8" rx="4" fill="#1e1e1e"/>
    <rect x="-11" y="-12" width="22" height="3" rx="1.5" fill="#1e1e1e"/>
    <rect x="-10.5" y="-6" width="21" height="3" rx="1.5" fill="#1c1c1c"/>
    <rect x="-12.5" y="14" width="25" height="7" rx="1" fill="#181818"/>
    <rect x="-7" y="8" width="3" height="6" fill="#d8d8d8"/>
    <rect x="3" y="8" width="3" height="6" fill="#d8d8d8"/>
    <rect x="-3" y="10" width="5" height="4" fill="#3a3a3a"/>
  </g>
</defs>
<g id="msu1">
  <!-- body side (thickness) -->
  <path d="M812.1 462 L812.1 470 L817.6 479 L831.9 493.5 L852.4 504.5 L871.4 509.5 L879.3 508 L899.8 495 L914 481 L922 466 L931.4 461 L940 454 L938 446 L920 452 L905 470 L880 490 L850 494 L825 482 Z" fill="#0e0e0f"/>
  <!-- body top -->
  <path d="M812.1 460.3 L832.7 440.6 L857.2 431 L865 424 L873 416.9 L893.5 415.3 L899.8 420 L922 417.6 L937.8 424.8 L941 436.6 L940 452.4 L931.4 458.7 L922 463.5 L914 476 L899.8 489 L879.3 500 L871.4 501.5 L852.4 497 L831.9 487 L817.6 474 L812.1 466 Z" fill="#1c1d1f"/>
  <!-- connector block -->
  <path d="M900 418 L922 417.6 L937.8 424.8 L941 436.6 L940 450 L931 456 L918 452 L912 440 L904 428 Z" fill="#232427"/>
  <path d="M912 440 L918 452 L931 456 L940 450 L940 453 L931 459 L917 455 L911 443 Z" fill="#111"/>
  <!-- ring -->
  <ellipse cx="874.5" cy="455.6" rx="44" ry="27.5" transform="rotate(-17 874.5 455.6)" fill="#202124" stroke="#2e2f33" stroke-width="1.2"/>
  <ellipse cx="874.5" cy="455.6" rx="33" ry="20.5" transform="rotate(-17 874.5 455.6)" fill="#0d0d0e"/>
  <!-- tabs on ring -->
  <g fill="#141416">
    <path d="M826 466 L838 461 L840 468 L829 473 Z"/>
    <path d="M867 487 L880 484 L881 491 L868 494 Z"/>
    <path d="M910 446 L921 441 L923 448 L912 452 Z"/>
    <path d="M866 424 L878 421 L879 428 L867 431 Z"/>
  </g>
  <!-- white band -->
  <path d="M849 466.5 L897.5 439 L901 445.5 L852.5 473 Z" fill="#d2e0ec"/>
  <ellipse cx="873.8" cy="456" rx="12.5" ry="9.5" transform="rotate(-17 873.8 456)" fill="#d2e0ec"/>
  <g stroke="#6a7a88" stroke-width="0.6">
    <line x1="854" y1="468" x2="896" y2="444.5"/>
    <line x1="865" y1="456" x2="882" y2="452.5"/>
    <line x1="866" y1="460" x2="880" y2="457"/>
  </g>
  <!-- ring marks -->
  <g stroke="#d8e0e8" stroke-width="2">
    <line x1="887" y1="430.5" x2="893" y2="429.8"/>
    <line x1="902" y1="435.5" x2="906.5" y2="438"/>
    <line x1="912.5" y1="447" x2="913.5" y2="451"/>
  </g>
  <g stroke="#8a9098" stroke-width="0.9" fill="none">
    <path d="M836 462 A44 27 -17 0 1 858 434"/>
    <path d="M875 484 A44 27 -17 0 0 910 466"/>
    <path d="M842 474 A44 27 -17 0 0 860 482"/>
  </g>
  <!-- screws -->
  <circle cx="830" cy="480" r="3" fill="#28304a"/>
  <circle cx="928" cy="440" r="2.8" fill="#28304a"/>
  <circle cx="882" cy="419" r="2.6" fill="#28304a"/>
</g>
<use href="#msu1" x="-178.5" y="173"/>
<g id="cables">
<path d="M1030.0 311.1 L1025.8 311.9 L1021.8 313.0 L1017.9 314.5 L1014.2 316.1 L1010.6 317.9 L1007.1 319.9 L1003.8 322.1 L1000.6 324.4 L997.6 326.9 L994.7 329.5 L991.9 332.2 L989.2 335.1 L986.6 338.0 L984.1 341.0 L981.8 344.1 L979.5 347.2 L977.3 350.4 L975.1 353.6 L973.1 356.9 L971.1 360.1 L969.1 363.4 L967.2 366.7 L965.3 370.0 L963.4 373.2 L961.5 376.5 L959.6 379.7 L957.7 382.9 L955.8 386.1 L953.9 389.2 L951.9 392.3 L949.8 395.3 L947.7 398.3 L945.6 401.2 L943.3 404.1 L940.9 406.9 L938.4 409.7 L935.8 412.3 L933.0 415.0 L930.2 417.7 L931.8 420.3 L935.6 418.7 L939.2 416.8 L942.6 414.6 L945.9 412.4 L949.0 409.9 L952.1 407.4 L955.0 404.7 L957.8 401.9 L960.5 399.0 L963.1 396.0 L965.6 393.0 L968.0 389.9 L970.3 386.7 L972.6 383.6 L974.8 380.3 L976.9 377.1 L979.0 373.9 L981.0 370.7 L983.0 367.4 L985.0 364.2 L986.9 361.1 L988.9 357.9 L990.8 354.8 L992.8 351.8 L994.7 348.8 L996.7 345.8 L998.8 342.9 L1000.9 340.1 L1003.0 337.4 L1005.3 334.7 L1007.6 332.1 L1010.0 329.5 L1012.5 327.1 L1015.2 324.7 L1018.0 322.4 L1021.0 320.2 L1024.1 318.1 L1027.5 316.0 L1031.0 313.9 Z" fill="#aab3bd" opacity="0.95"/>
<path d="M1030.5 312.5 L1026.8 314.4 L1023.3 316.2 L1019.9 318.1 L1016.7 320.2 L1013.6 322.4 L1010.8 324.7 L1008.1 327.3 L1005.7 330.0 L1003.5 332.9 L1001.5 335.9 L999.6 339.0 L997.9 342.2 L996.0 345.3 L993.9 348.1 L991.8 351.1 L989.7 354.1 L987.7 357.2 L985.7 360.3 L983.7 363.5 L981.7 366.7 L979.7 369.9 L977.8 373.2 L975.8 376.4 L973.7 379.7 L971.2 382.7 L968.5 385.5 L965.8 388.4 L963.1 391.2 L960.5 394.1 L957.9 396.9 L955.3 399.8 L952.6 402.6 L950.0 405.4 L947.2 408.1 L944.3 410.7 L941.3 413.1 L938.1 415.4 L934.7 417.4 L931.0 419.0" fill="none" stroke="#56606c" stroke-width="1.1" stroke-linecap="round" stroke-linejoin="round"/>
<path d="M1030.5 312.5 L1026.9 314.6 L1023.5 316.6 L1020.1 318.5 L1016.8 320.5 L1013.6 322.4 L1010.5 324.4 L1007.4 326.5 L1004.5 328.7 L1001.7 331.1 L999.2 333.7 L996.8 336.6 L994.7 339.6 L992.8 342.8 L991.1 346.1 L989.6 349.6 L988.2 353.1 L986.9 356.6 L985.4 360.1 L983.7 363.5 L981.7 366.7 L979.7 369.9 L977.8 373.2 L975.6 376.3 L973.0 379.3 L970.3 382.1 L967.6 384.9 L964.8 387.7 L962.0 390.5 L959.3 393.2 L956.7 396.0 L954.1 398.9 L951.6 401.7 L949.1 404.6 L946.5 407.4 L943.8 410.1 L941.0 412.7 L937.9 415.1 L934.6 417.3 L931.0 419.0" fill="none" stroke="#eef2f5" stroke-width="1.3" stroke-linecap="round" stroke-linejoin="round"/>
<path d="M1030.5 312.5 L1026.6 313.8 L1022.8 315.3 L1019.2 316.9 L1015.8 318.7 L1012.5 320.7 L1009.4 323.0 L1006.6 325.5 L1004.1 328.2 L1001.7 331.1 L999.6 334.1 L997.6 337.3 L995.7 340.5 L993.9 343.7 L992.1 346.8 L990.2 350.0 L988.2 353.1 L986.1 356.1 L983.8 359.1 L981.4 362.1 L978.9 365.0 L976.4 367.8 L973.8 370.7 L971.2 373.6 L968.7 376.5 L966.2 379.5 L963.9 382.5 L961.7 385.6 L959.6 388.8 L957.6 391.9 L955.6 395.1 L953.5 398.3 L951.4 401.5 L949.1 404.5 L946.6 407.5 L944.0 410.3 L941.1 412.8 L937.9 415.2 L934.6 417.2 L931.0 419.0" fill="none" stroke="#46505c" stroke-width="1.0" stroke-linecap="round" stroke-linejoin="round"/>
<path d="M1030.5 312.5 L1026.6 313.8 L1022.9 315.5 L1019.5 317.4 L1016.2 319.5 L1013.2 321.7 L1010.3 324.1 L1007.5 326.6 L1004.8 329.1 L1002.2 331.6 L999.6 334.1 L997.0 336.7 L994.3 339.3 L991.7 341.9 L989.0 344.6 L986.4 347.3 L983.7 350.1 L981.2 352.9 L978.7 355.9 L976.3 358.9 L974.0 361.9 L971.8 365.1 L969.8 368.3 L967.9 371.6 L966.2 375.0 L964.5 378.4 L962.8 381.8 L961.1 385.2 L959.5 388.7 L957.7 392.0 L955.8 395.3 L953.8 398.6 L951.6 401.7 L949.2 404.6 L946.6 407.4 L943.8 410.1 L940.8 412.6 L937.7 414.9 L934.4 417.0 L931.0 419.0" fill="none" stroke="#dfe5ea" stroke-width="1.2" stroke-linecap="round" stroke-linejoin="round"/>
<path d="M1030.5 312.5 L1026.6 313.9 L1022.9 315.4 L1019.3 317.1 L1015.8 318.8 L1012.4 320.6 L1009.1 322.5 L1005.8 324.5 L1002.6 326.6 L999.4 328.8 L996.3 331.1 L993.3 333.5 L990.4 336.1 L987.6 338.8 L985.0 341.7 L982.7 344.8 L980.6 348.0 L978.4 351.2 L976.4 354.4 L974.6 357.8 L972.9 361.3 L971.4 364.8 L969.9 368.4 L968.5 372.0 L967.0 375.5 L965.5 379.0 L963.8 382.5 L962.1 385.9 L960.2 389.1 L958.1 392.3 L955.9 395.4 L953.5 398.3 L951.0 401.2 L948.4 403.9 L945.7 406.5 L942.9 409.1 L940.0 411.6 L937.1 414.0 L934.0 416.5 L931.0 419.0" fill="none" stroke="#6a7480" stroke-width="1.0" stroke-linecap="round" stroke-linejoin="round"/>
<path d="M1030.5 312.5 L1026.3 313.1 L1022.4 314.3 L1018.7 315.9 L1015.2 317.7 L1011.9 319.8 L1008.8 322.1 L1005.8 324.5 L1002.9 326.9 L1000.0 329.3 L997.1 331.8 L994.2 334.3 L991.2 336.7 L988.2 339.3 L985.2 341.8 L982.7 344.8 L980.6 348.0 L978.4 351.2 L976.4 354.4 L974.3 357.7 L972.3 360.9 L970.3 364.2 L968.4 367.4 L966.4 370.7 L964.4 373.9 L962.6 377.2 L961.3 380.8 L959.9 384.4 L958.3 387.9 L956.6 391.2 L954.6 394.4 L952.4 397.4 L950.1 400.3 L947.6 403.1 L944.9 405.8 L942.2 408.3 L939.5 410.9 L936.7 413.5 L933.8 416.1 L931.0 419.0" fill="none" stroke="#f4f6f8" stroke-width="1.1" stroke-linecap="round" stroke-linejoin="round"/>
<path d="M801.5 549.0 L800.0 550.0 L798.5 551.0 L797.0 552.1 L795.6 553.2 L794.1 554.3 L792.7 555.4 L791.2 556.5 L789.8 557.6 L788.3 558.6 L786.8 559.7 L785.4 560.8 L783.9 561.9 L782.5 563.0 L781.0 564.1 L779.6 565.2 L778.1 566.3 L776.7 567.4 L775.2 568.6 L773.8 569.7 L772.3 570.8 L770.9 571.9 L769.4 573.0 L768.0 574.2 L766.6 575.3 L765.1 576.4 L763.7 577.6 L762.3 578.7 L760.8 579.8 L759.4 581.0 L758.0 582.1 L756.5 583.3 L755.1 584.4 L753.7 585.6 L752.3 586.7 L750.8 587.9 L749.4 589.1 L748.0 590.2 L746.6 591.4 L745.2 592.7 L746.8 595.3 L748.5 594.7 L750.3 594.0 L752.0 593.2 L753.7 592.5 L755.4 591.7 L757.1 590.8 L758.7 590.0 L760.4 589.1 L762.0 588.2 L763.7 587.3 L765.3 586.3 L766.9 585.4 L768.5 584.4 L770.1 583.3 L771.7 582.3 L773.2 581.2 L774.8 580.2 L776.3 579.1 L777.8 577.9 L779.3 576.8 L780.8 575.6 L782.2 574.4 L783.7 573.2 L785.1 571.9 L786.5 570.7 L787.9 569.4 L789.2 568.1 L790.6 566.8 L791.9 565.5 L793.2 564.1 L794.5 562.7 L795.7 561.3 L796.9 559.9 L798.1 558.5 L799.3 557.1 L800.5 555.6 L801.6 554.1 L802.7 552.6 L803.7 551.0 Z" fill="#aab3bd" opacity="0.95"/>
<path d="M802.6 550.0 L801.7 551.7 L800.7 553.2 L799.5 554.6 L798.3 556.0 L796.9 557.2 L795.5 558.5 L794.2 559.7 L792.8 560.9 L791.5 562.2 L790.2 563.5 L789.0 565.0 L787.9 566.5 L786.8 568.1 L785.7 569.7 L784.2 570.9 L782.8 572.1 L781.3 573.3 L779.9 574.4 L778.4 575.6 L776.9 576.7 L775.4 577.9 L773.9 579.0 L772.4 580.1 L770.6 580.8 L768.8 581.5 L767.0 582.3 L765.4 583.1 L763.8 584.1 L762.2 585.1 L760.7 586.2 L759.2 587.4 L757.8 588.5 L756.3 589.6 L754.7 590.6 L753.1 591.5 L751.4 592.3 L749.7 593.0 L747.9 593.6 L746.0 594.0" fill="none" stroke="#56606c" stroke-width="1.1" stroke-linecap="round" stroke-linejoin="round"/>
<path d="M802.6 550.0 L801.5 551.5 L800.4 553.0 L799.3 554.5 L798.2 555.9 L797.1 557.4 L795.9 558.8 L794.7 560.2 L793.4 561.5 L792.0 562.8 L790.6 564.0 L789.1 565.1 L787.6 566.2 L786.0 567.2 L784.4 568.2 L782.8 569.1 L781.2 570.1 L779.6 571.1 L778.0 572.1 L776.5 573.2 L775.1 574.4 L773.7 575.6 L772.3 576.8 L770.9 578.1 L769.6 579.5 L768.3 580.8 L766.9 582.1 L765.5 583.4 L764.1 584.6 L762.6 585.7 L761.1 586.8 L759.5 587.8 L757.9 588.7 L756.2 589.6 L754.5 590.4 L752.8 591.1 L751.1 591.8 L749.4 592.5 L747.7 593.3 L746.0 594.0" fill="none" stroke="#eef2f5" stroke-width="1.3" stroke-linecap="round" stroke-linejoin="round"/>
<path d="M802.6 550.0 L801.3 551.2 L799.9 552.4 L798.5 553.6 L797.0 554.7 L795.6 555.9 L794.3 557.1 L792.9 558.3 L791.6 559.6 L790.4 561.0 L789.2 562.4 L788.0 563.8 L786.8 565.3 L785.6 566.7 L784.4 568.1 L783.1 569.5 L781.8 570.8 L780.4 572.1 L778.9 573.2 L777.4 574.3 L775.8 575.2 L774.1 576.1 L772.4 577.0 L770.7 577.8 L769.0 578.6 L767.3 579.4 L765.6 580.3 L764.0 581.2 L762.4 582.1 L760.9 583.2 L759.4 584.3 L758.0 585.4 L756.5 586.6 L755.1 587.8 L753.7 589.0 L752.2 590.1 L750.7 591.2 L749.2 592.2 L747.6 593.2 L746.0 594.0" fill="none" stroke="#46505c" stroke-width="1.0" stroke-linecap="round" stroke-linejoin="round"/>
<path d="M802.6 550.0 L801.1 551.1 L799.8 552.3 L798.4 553.5 L797.1 554.8 L795.8 556.1 L794.6 557.4 L793.3 558.7 L792.0 560.0 L790.7 561.3 L789.4 562.6 L788.0 563.8 L786.6 565.0 L785.1 566.1 L783.6 567.2 L782.0 568.2 L780.4 569.2 L778.8 570.1 L777.2 571.0 L775.5 571.9 L773.9 572.8 L772.3 573.7 L770.7 574.7 L769.1 575.6 L767.5 576.6 L766.0 577.7 L764.6 578.8 L763.1 579.9 L761.7 581.1 L760.3 582.3 L759.0 583.6 L757.6 584.9 L756.2 586.1 L754.8 587.4 L753.4 588.6 L752.0 589.8 L750.5 590.9 L749.1 592.0 L747.5 593.0 L746.0 594.0" fill="none" stroke="#dfe5ea" stroke-width="1.2" stroke-linecap="round" stroke-linejoin="round"/>
<path d="M802.6 550.0 L801.0 550.9 L799.4 551.9 L797.8 552.8 L796.2 553.8 L794.7 554.9 L793.3 556.1 L792.0 557.3 L790.8 558.7 L789.5 560.0 L788.3 561.4 L787.1 562.8 L785.7 564.0 L784.3 565.2 L782.7 566.2 L781.1 567.1 L779.3 567.8 L777.6 568.6 L776.1 569.7 L774.7 570.9 L773.2 572.0 L771.8 573.1 L770.3 574.2 L768.8 575.3 L767.4 576.4 L765.9 577.4 L764.6 578.9 L763.4 580.4 L762.2 581.8 L760.8 583.1 L759.4 584.3 L757.9 585.3 L756.3 586.3 L754.7 587.2 L753.1 588.1 L751.6 589.1 L750.1 590.1 L748.6 591.3 L747.3 592.6 L746.0 594.0" fill="none" stroke="#6a7480" stroke-width="1.0" stroke-linecap="round" stroke-linejoin="round"/>
</g><use href="#conn" transform="translate(1040.2 293.7) rotate(27)"/>
<use href="#conn" transform="translate(812.3 531.2) rotate(27)"/>

<g id="arrows">
<path d="M447.0 276.7 L446.1 274.1 L445.1 271.6 L444.0 269.0 L443.0 266.5 L441.9 264.0 L440.7 261.6 L439.5 259.1 L438.3 256.7 L437.0 254.3 L435.7 251.9 L434.4 249.5 L433.0 247.2 L431.6 244.9 L430.2 242.6 L428.7 240.3 L427.2 238.1 L425.7 235.8 L424.1 233.6 L422.5 231.4 L420.9 229.3 L419.2 227.1 L417.5 225.0 L415.8 222.9 L414.0 220.9 L412.2 218.8 L410.4 216.8 L408.6 214.8 L406.7 212.9 L404.8 210.9 L402.9 209.0 L400.9 207.1 L399.0 205.3 L397.0 203.4 L394.9 201.6 L392.9 199.8 L390.8 198.1 L388.7 196.3 L386.6 194.6 L384.5 192.9 L382.3 191.3 L380.1 189.6 L377.9 188.0 L375.7 186.5 L373.4 184.9 L371.2 183.4 L368.9 181.9 L366.6 180.4 L364.2 179.0 L361.9 177.6 L359.5 176.2 L357.1 174.9 L354.7 173.5 L352.3 172.3 L349.9 171.0 L347.5 169.8 L345.0 168.5 L342.5 167.4 L340.0 166.2 L337.5 165.1 L335.5 169.9 L338.0 170.9 L340.4 172.0 L342.9 173.1 L345.3 174.2 L347.7 175.4 L350.1 176.5 L352.5 177.8 L354.9 179.0 L357.3 180.3 L359.6 181.6 L361.9 182.9 L364.3 184.2 L366.5 185.6 L368.8 187.0 L371.1 188.5 L373.3 189.9 L375.6 191.4 L377.8 192.9 L379.9 194.5 L382.1 196.0 L384.3 197.6 L386.4 199.3 L388.5 200.9 L390.6 202.6 L392.6 204.3 L394.7 206.0 L396.7 207.8 L398.7 209.6 L400.6 211.4 L402.6 213.2 L404.5 215.1 L406.4 217.0 L408.2 218.9 L410.1 220.8 L411.9 222.8 L413.7 224.8 L415.4 226.8 L417.2 228.8 L418.9 230.9 L420.5 232.9 L422.2 235.0 L423.8 237.2 L425.4 239.3 L426.9 241.5 L428.5 243.7 L430.0 245.9 L431.4 248.2 L432.8 250.5 L434.2 252.7 L435.6 255.1 L436.9 257.4 L438.2 259.8 L439.5 262.2 L440.7 264.6 L441.9 267.0 L443.1 269.4 L444.2 271.9 L445.3 274.4 L446.4 276.9 Z" fill="#0c1f6c"/>
<polygon points="325,162.2 339.8,161.6 333.5,175.6" fill="#0c1f6c" stroke="#e8e8ee" stroke-width="0.7"/>
<path d="M370.8 368.6 L370.2 371.0 L369.6 373.3 L369.0 375.6 L368.3 377.9 L367.6 380.1 L366.8 382.3 L366.0 384.5 L365.1 386.7 L364.2 388.8 L363.2 390.9 L362.2 393.0 L361.2 395.1 L360.1 397.1 L359.0 399.1 L357.8 401.1 L356.6 403.0 L355.4 405.0 L354.1 406.8 L352.8 408.7 L351.5 410.6 L350.1 412.4 L348.7 414.2 L347.2 415.9 L345.8 417.7 L344.3 419.4 L342.7 421.0 L341.1 422.7 L339.5 424.3 L337.9 425.9 L336.2 427.5 L334.6 429.1 L332.9 430.6 L331.1 432.1 L329.3 433.6 L327.6 435.0 L325.7 436.4 L323.9 437.8 L322.1 439.2 L320.2 440.5 L318.3 441.8 L316.4 443.1 L314.4 444.4 L312.5 445.6 L310.5 446.8 L308.5 448.0 L306.5 449.2 L304.4 450.3 L302.4 451.4 L300.3 452.5 L298.3 453.6 L296.2 454.6 L294.1 455.6 L292.0 456.6 L289.9 457.5 L287.8 458.4 L285.6 459.3 L283.5 460.2 L281.3 461.0 L279.2 461.9 L280.8 466.1 L283.0 465.3 L285.2 464.3 L287.4 463.4 L289.5 462.4 L291.7 461.4 L293.8 460.4 L295.9 459.4 L298.1 458.3 L300.2 457.2 L302.2 456.1 L304.3 454.9 L306.4 453.7 L308.4 452.5 L310.4 451.3 L312.5 450.0 L314.4 448.8 L316.4 447.4 L318.4 446.1 L320.3 444.7 L322.2 443.3 L324.1 441.9 L326.0 440.5 L327.8 439.0 L329.6 437.5 L331.4 436.0 L333.2 434.4 L334.9 432.9 L336.6 431.3 L338.3 429.6 L339.9 428.0 L341.5 426.3 L343.1 424.6 L344.7 422.8 L346.2 421.1 L347.7 419.3 L349.2 417.5 L350.6 415.6 L352.0 413.8 L353.3 411.9 L354.6 410.0 L355.9 408.0 L357.1 406.1 L358.3 404.1 L359.5 402.1 L360.6 400.0 L361.7 397.9 L362.7 395.8 L363.7 393.7 L364.6 391.6 L365.5 389.4 L366.4 387.2 L367.2 385.0 L368.0 382.8 L368.7 380.5 L369.3 378.2 L369.9 375.9 L370.5 373.5 L371.0 371.2 L371.4 368.8 Z" fill="#0c1f6c"/>
<polygon points="270.3,468.8 275.6,459.2 283.2,468.2" fill="#0c1f6c" stroke="#e8e8ee" stroke-width="0.6"/>
<path d="M395.9 378.3 L396.1 380.7 L396.4 383.0 L396.7 385.3 L397.0 387.7 L397.4 390.0 L397.8 392.4 L398.2 394.7 L398.7 397.1 L399.1 399.4 L399.7 401.8 L400.2 404.1 L400.8 406.5 L401.4 408.8 L402.0 411.2 L402.7 413.5 L403.4 415.8 L404.1 418.1 L404.9 420.5 L405.6 422.8 L406.5 425.1 L407.3 427.3 L408.2 429.6 L409.1 431.9 L410.1 434.1 L411.0 436.3 L412.0 438.6 L413.1 440.8 L414.2 442.9 L415.3 445.1 L416.4 447.2 L417.6 449.4 L418.8 451.5 L420.0 453.5 L421.3 455.6 L422.6 457.6 L424.0 459.6 L425.3 461.6 L426.8 463.6 L428.2 465.5 L429.7 467.4 L431.2 469.3 L432.8 471.1 L434.4 472.9 L436.0 474.7 L437.7 476.4 L439.4 478.1 L441.1 479.8 L442.9 481.4 L444.7 483.0 L446.5 484.6 L448.4 486.1 L450.4 487.6 L452.3 489.0 L454.3 490.4 L456.4 491.7 L458.5 493.0 L460.6 494.3 L462.7 495.5 L464.9 496.6 L467.1 492.4 L464.9 491.3 L462.9 490.2 L460.8 489.0 L458.8 487.9 L456.8 486.6 L454.9 485.3 L452.9 484.0 L451.1 482.6 L449.2 481.2 L447.4 479.8 L445.6 478.3 L443.9 476.8 L442.2 475.2 L440.5 473.6 L438.8 472.0 L437.2 470.3 L435.6 468.6 L434.1 466.8 L432.5 465.1 L431.1 463.3 L429.6 461.4 L428.2 459.6 L426.8 457.7 L425.4 455.7 L424.1 453.8 L422.8 451.8 L421.5 449.8 L420.3 447.8 L419.1 445.8 L417.9 443.7 L416.7 441.6 L415.6 439.5 L414.5 437.4 L413.5 435.2 L412.5 433.0 L411.5 430.9 L410.5 428.7 L409.6 426.4 L408.7 424.2 L407.8 422.0 L407.0 419.7 L406.1 417.5 L405.4 415.2 L404.6 412.9 L403.9 410.6 L403.2 408.3 L402.5 406.0 L401.8 403.7 L401.2 401.4 L400.6 399.1 L400.1 396.8 L399.5 394.4 L399.0 392.1 L398.6 389.8 L398.1 387.5 L397.7 385.2 L397.3 382.9 L396.9 380.6 L396.5 378.3 Z" fill="#0c1f6c"/>
<polygon points="473,501.6 468.2,487.6 459.2,498.6" fill="#0c1f6c" stroke="#e8e8ee" stroke-width="0.6"/>
<path d="M885.6 170.4 L887.5 174.2 L889.4 178.0 L891.2 181.8 L893.0 185.7 L894.8 189.5 L896.5 193.4 L898.2 197.3 L899.8 201.1 L901.3 205.1 L902.8 209.0 L904.2 212.9 L905.6 216.9 L906.9 220.9 L908.2 224.9 L909.4 228.9 L910.5 232.9 L911.6 236.9 L912.7 240.9 L913.7 245.0 L914.6 249.1 L915.5 253.1 L916.3 257.2 L917.1 261.3 L917.8 265.4 L918.5 269.5 L919.1 273.6 L919.6 277.7 L920.1 281.9 L920.6 286.0 L920.9 290.1 L921.3 294.3 L921.5 298.4 L921.8 302.6 L921.9 306.7 L922.0 310.9 L922.1 315.1 L922.1 319.2 L922.1 323.4 L922.0 327.5 L921.8 331.7 L921.6 335.8 L921.3 340.0 L921.0 344.1 L920.6 348.3 L920.2 352.4 L919.7 356.6 L919.2 360.7 L918.6 364.8 L918.0 368.9 L917.3 373.1 L916.5 377.2 L915.7 381.3 L914.9 385.3 L914.0 389.4 L913.0 393.5 L912.0 397.5 L911.0 401.6 L909.9 405.6 L908.7 409.6 L918.3 412.4 L919.4 408.2 L920.4 404.0 L921.4 399.8 L922.3 395.6 L923.2 391.4 L924.0 387.2 L924.8 382.9 L925.5 378.7 L926.1 374.5 L926.7 370.2 L927.2 366.0 L927.7 361.7 L928.1 357.5 L928.5 353.2 L928.8 348.9 L929.0 344.7 L929.2 340.4 L929.4 336.2 L929.5 331.9 L929.5 327.6 L929.5 323.4 L929.4 319.1 L929.3 314.9 L929.1 310.6 L928.8 306.4 L928.5 302.2 L928.1 297.9 L927.7 293.7 L927.2 289.5 L926.7 285.3 L926.1 281.1 L925.5 276.9 L924.8 272.7 L924.0 268.6 L923.2 264.4 L922.3 260.3 L921.4 256.1 L920.4 252.0 L919.4 247.9 L918.3 243.8 L917.1 239.7 L915.9 235.7 L914.6 231.6 L913.3 227.6 L911.9 223.6 L910.5 219.6 L909.0 215.7 L907.4 211.7 L905.8 207.8 L904.1 203.9 L902.4 200.0 L900.6 196.2 L898.7 192.3 L896.8 188.5 L894.8 184.8 L892.8 181.0 L890.7 177.3 L888.5 173.6 L886.2 170.0 Z" fill="#0c1f6c"/>
<polygon points="908.3,433.6 900.6,408 924,414.4" fill="#0c1f6c" stroke="#e8e8ee" stroke-width="0.7"/>
<path d="M344.2 523.9 L147 603.6" stroke="#c8c8c8" stroke-width="3.4" fill="none" stroke-linecap="round" stroke-linejoin="round"/>
<path d="M344.2 523.9 L495.7 610.7" stroke="#c8c8c8" stroke-width="3.4" fill="none" stroke-linecap="round" stroke-linejoin="round"/>
<path d="M344.2 523.9 L147 603.6" stroke="#0a0a0a" stroke-width="1.6" fill="none" stroke-linecap="round"/>
<path d="M344.2 523.9 L495.7 610.7" stroke="#0a0a0a" stroke-width="1.6" fill="none" stroke-linecap="round"/>
</g>
<g id="labels" font-size="26" fill="#111">
  <text x="169.6" y="333">ISIS</text>
  <text x="32" y="677">AHRU 2</text>
  <text x="413" y="677">AHRU</text>
  <path d="M498.9 658.3 H501.7 V677.6 H498.9 Z M494.4 662.8 C496.6 661.8 498.4 660.4 499.4 658.3 L501 658.3 L500.6 661.8 C498.8 663.4 496.8 664.6 494.4 665.5 Z" fill="#111"/>
  <text x="319" y="510.5">IDM</text>
  <text x="894.2" y="539.4" fill="#3c3c3c">MSU</text>
</g>

<rect x="3.1" y="3" width="1073.8" height="689.5" rx="2.5" fill="none" stroke="#3c3c3c" stroke-width="2.7"/>
</svg>
</body></html>
